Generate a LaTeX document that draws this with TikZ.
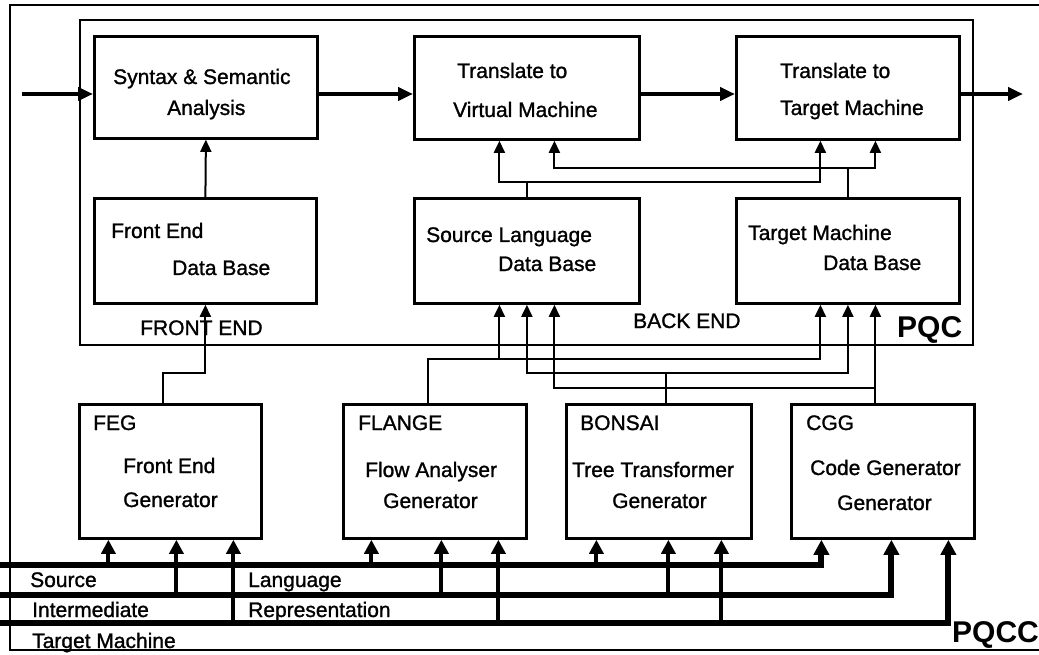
\documentclass[tikz,border=0pt]{standalone}
\usepackage{fontspec}
\setmainfont{Liberation Sans}
\newfontfamily\labfont{Liberation Sans}[BoldFont={Liberation Sans}, BoldFeatures={FakeBold=1.2}]
\usetikzlibrary{arrows.meta,calc}
\begin{document}
\begin{tikzpicture}[x=1pt,y=-1pt,
  >={Triangle[length=12pt,width=11pt]},
  box/.style={draw, line width=2.8pt, inner sep=0pt, anchor=north west},
  lab/.style={anchor=base west, inner sep=0pt, font=\labfont\bfseries\fontsize{21}{24}\selectfont},
  big/.style={anchor=base west, inner sep=0pt, font=\bfseries\fontsize{30}{32}\selectfont},
  frame/.style={line width=2pt},
  conn/.style={line width=2pt},
  flow/.style={line width=4pt, -{Triangle[length=15pt,width=13pt]}},
  bus/.style={line width=6pt, line join=miter, -{Triangle[length=15pt,width=15pt]}},
  feed/.style={line width=4pt, -{Triangle[length=14pt,width=14pt]}}
]
\useasboundingbox (0,0) rectangle (1039,655);

% frames
\draw[frame] (1039,5) -- (10,5) -- (10,650) -- (1039,650);
\draw[frame] (80,20) rectangle (973,345);

% boxes
\node[box, minimum width=223pt, minimum height=102pt] (syn) at (93,35) {};
\node[box, minimum width=222pt, minimum height=105pt] (fedb) at (93,197) {};
\node[box, minimum width=225pt, minimum height=103pt] (tvm) at (413,35) {};
\node[box, minimum width=225pt, minimum height=105pt] (sldb) at (413,197) {};
\node[box, minimum width=223pt, minimum height=103pt] (ttm) at (735,35) {};
\node[box, minimum width=223pt, minimum height=105pt] (tmdb) at (735,197) {};
\node[box, minimum width=182pt, minimum height=134pt] (feg) at (78,403) {};
\node[box, minimum width=183pt, minimum height=134pt] (flange) at (342,403) {};
\node[box, minimum width=185pt, minimum height=134pt] (bonsai) at (565,403) {};
\node[box, minimum width=183pt, minimum height=134pt] (cgg) at (790,403) {};

% texts
\node[lab] (t1) at (113,84) {Syntax \& Semantic};
\node[lab] (t2) at (167,115) {Analysis};
\node[lab] (t3) at (457,78) {Translate to};
\node[lab] (t4) at (453,117) {Virtual Machine};
\node[lab] (t5) at (780,78) {Translate to};
\node[lab] (t6) at (780,115) {Target Machine};
\node[lab] (t7) at (111,238) {Front End};
\node[lab] (t8) at (172,275) {Data Base};
\node[lab] (t9) at (426,242) {Source Language};
\node[lab] (t10) at (498,271) {Data Base};
\node[lab] (t11) at (748,240) {Target Machine};
\node[lab] (t12) at (823,270) {Data Base};
\node[lab] (t13) at (140,335) {FRONT END};
\node[lab] (t14) at (633,328) {BACK END};
\node[big] (t15) at (897,337) {PQC};
\node[lab] (t16) at (93,430) {FEG};
\node[lab] (t17) at (123,473) {Front End};
\node[lab] (t18) at (123,507) {Generator};
\node[lab] (t19) at (358,430) {FLANGE};
\node[lab] (t20) at (365,477) {Flow Analyser};
\node[lab] (t21) at (383,508) {Generator};
\node[lab] (t22) at (580,430) {BONSAI};
\node[lab] (t23) at (572,477) {Tree Transformer};
\node[lab] (t24) at (612,508) {Generator};
\node[lab] (t25) at (806,430) {CGG};
\node[lab] (t26) at (810,475) {Code Generator};
\node[lab] (t27) at (837,510) {Generator};
\node[lab] (t28) at (30,587) {Source};
\node[lab] (t29) at (248,587) {Language};
\node[lab] (t30) at (32,617) {Intermediate};
\node[lab] (t31) at (248,617) {Representation};
\node[lab] (t32) at (32,648) {Target Machine};
\node[big] (t33) at (952,642) {PQCC};

% helper coordinates
\coordinate (fy) at (0,94);
\coordinate (in) at (22,94);
\coordinate (out) at (1023,94);
\coordinate (ya) at (0,182);
\coordinate (yb) at (0,168);
\coordinate (yc) at (0,359);
\coordinate (yd) at (0,373);
\coordinate (ye) at (0,388);
\coordinate (yf) at (0,373);
\coordinate (tvmL) at ([xshift=-27.5pt]tvm.south);
\coordinate (tvmR) at ([xshift=27.5pt]tvm.south);
\coordinate (ttmL) at ([xshift=-27.5pt]ttm.south);
\coordinate (ttmR) at ([xshift=27.5pt]ttm.south);
\coordinate (sldbA) at ([xshift=-27.5pt]sldb.south);
\coordinate (sldbB) at (sldb.south);
\coordinate (sldbC) at ([xshift=27.5pt]sldb.south);
\coordinate (tmdbA) at ([xshift=-27.5pt]tmdb.south);
\coordinate (tmdbB) at (tmdb.south);
\coordinate (tmdbC) at ([xshift=27.5pt]tmdb.south);
\coordinate (fegT) at ([xshift=-7pt]feg.north);
\coordinate (flT) at ([xshift=-6.5pt]flange.north);
\coordinate (boT) at ([xshift=7.5pt]bonsai.north);

% main flow
\draw[flow] (in) -- (syn.west |- fy);
\draw[flow] (syn.east |- fy) -- (tvm.west |- fy);
\draw[flow] (tvm.east |- fy) -- (ttm.west |- fy);
\draw[flow] (ttm.east |- fy) -- (out);

% PQC internal connectors
\draw[conn,->] (fedb.north) -- (syn.south);
\draw[conn,->] (fegT) -- (fegT |- yf) -| (fedb.south);
\draw[conn] (sldb.north) -- (sldb.north |- ya);
\draw[conn,<->] (tvmL) -- (tvmL |- ya) -| (ttmL);
\draw[conn] (tmdb.north) -- (tmdb.north |- yb);
\draw[conn,<->] (tvmR) -- (tvmR |- yb) -| (ttmR);

% generator connectors
\draw[conn,->] (flT) -- (flT |- yc) -| (tmdbA);
\draw[conn,->] (sldbA |- yc) -- (sldbA);
\draw[conn] (boT) -- (boT |- yd);
\draw[conn,<->] (sldbB) -- (sldbB |- yd) -| (tmdbB);
\draw[conn,->] (tmdbC |- cgg.north) -- (tmdbC);
\draw[conn,->] (tmdbC |- ye) -| (sldbC);

% buses
\coordinate (busS) at (0,565);
\coordinate (busI) at (0,595);
\coordinate (busT) at (0,623);
\coordinate (cgA) at ([xshift=-61.5pt]cgg.south);
\coordinate (cgB) at ([xshift=8.5pt]cgg.south);
\coordinate (cgC) at ([xshift=65.5pt]cgg.south);
\draw[bus] (busS) -| (cgA);
\draw[bus] (busI) -| (cgB);
\draw[bus] (busT) -| (cgC);

\foreach \n/\a/\b/\c in {feg/-62/6/63, flange/-63.5/6.5/63.5, bonsai/-62.5/9.5/62.5} {
  \coordinate (fa) at ([xshift=\a pt]\n.south);
  \coordinate (fb) at ([xshift=\b pt]\n.south);
  \coordinate (fc) at ([xshift=\c pt]\n.south);
  \draw[feed] (fa |- busS) -- (fa);
  \draw[feed] (fb |- busI) -- (fb);
  \draw[feed] (fc |- busT) -- (fc);
}
\end{tikzpicture}
\end{document}
